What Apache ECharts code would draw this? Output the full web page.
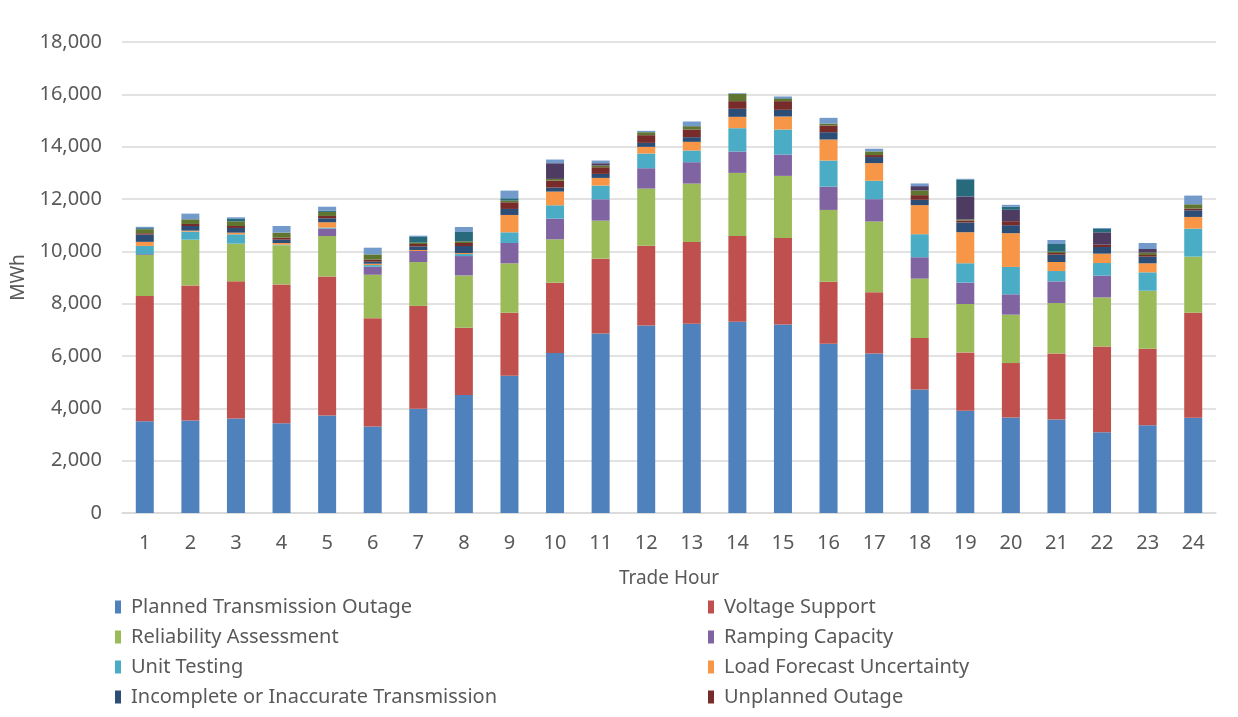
<!DOCTYPE html>
<html>
<head>
<meta charset="utf-8">
<script src="https://cdn.jsdelivr.net/npm/echarts@6/dist/echarts.min.js"></script>
<style>html,body{margin:0;padding:0;background:#fff;}#c{width:1238px;height:717px;}</style>
</head>
<body>
<div id="c"></div>
<script>
const hours = ['1','2','3','4','5','6','7','8','9','10','11','12','13','14','15','16','17','18','19','20','21','22','23','24'];
const yTicks = [0,2000,4000,6000,8000,10000,12000,14000,16000,18000];

const plannedTransmissionOutage = [3508,3533,3610,3431,3729,3307,3984,4508,5242,6110,6862,7168,7232,7309,7207,6467,6099,4721,3905,3649,3571,3087,3355,3636];
const voltageSupport = [4783,5166,5242,5306,5312,4138,3933,2567,2411,2691,2857,3049,3125,3278,3303,2372,2335,1965,2233,2080,2526,3278,2920,4017];
const reliabilityAssessment = [1569,1747,1441,1493,1546,1660,1673,2004,1888,1658,1454,2181,2232,2410,2373,2743,2705,2272,1850,1850,1926,1875,2220,2143];
const rampingCapacity = [30,0,0,0,280,306,422,741,778,791,817,778,817,817,816,892,855,816,816,779,829,829,0,0];
const unitTesting = [318,306,357,25,40,64,0,77,408,510,523,561,446,892,956,995,702,881,740,1046,395,484,702,1071];
const loadForecastUncertainty = [154,39,64,64,203,51,38,38,663,523,293,255,332,434,498,804,676,1110,1187,1289,345,358,344,447];
const incompleteTransmission = [280,178,179,127,153,77,140,268,230,153,153,153,178,306,255,280,230,204,370,306,280,255,255,255];
const unplannedOutage = [51,77,76,77,89,77,90,115,255,268,255,294,293,294,332,256,77,179,77,153,64,89,64,64];
const other1 = [153,178,179,191,154,204,51,64,63,64,64,114,128,280,89,76,140,178,38,0,51,0,89,166];
const other2 = [0,0,0,0,0,0,0,0,0,599,89,0,0,0,0,0,0,166,880,434,0,472,140,0];
const other3 = [40,0,89,0,50,0,217,358,90,0,0,0,0,0,25,0,0,0,651,115,294,128,0,0];
const other4 = [51,217,64,255,150,255,51,191,293,141,102,51,179,26,64,217,102,102,25,76,153,38,230,331];

const seriesDefs = [
  ['Planned Transmission Outage', plannedTransmissionOutage, '#4F81BD'],
  ['Voltage Support', voltageSupport, '#C0504D'],
  ['Reliability Assessment', reliabilityAssessment, '#9BBB59'],
  ['Ramping Capacity', rampingCapacity, '#8064A2'],
  ['Unit Testing', unitTesting, '#4BACC6'],
  ['Load Forecast Uncertainty', loadForecastUncertainty, '#F79646'],
  ['Incomplete or Inaccurate Transmission', incompleteTransmission, '#2C4D75'],
  ['Unplanned Outage', unplannedOutage, '#772C2A'],
  ['Other 1', other1, '#5F7530'],
  ['Other 2', other2, '#4D3B62'],
  ['Other 3', other3, '#276A7C'],
  ['Other 4', other4, '#729ACA']
];

const FONT = 'Noto Sans';
const TXT = '#595959';

const chart = echarts.init(document.getElementById('c'), null, {renderer: 'canvas'});
const legendCommon = {
  type: 'plain',
  orient: 'vertical',
  top: 592,
  height: 300,
  itemWidth: 6,
  itemHeight: 13,
  itemGap: 10,
  icon: 'rect',
  textStyle: {fontFamily: FONT, fontSize: 20, lineHeight: 13, color: TXT, padding: [0,0,0,5]}
};
chart.setOption({
  animation: false,
  backgroundColor: '#ffffff',
  grid: {left: 122, right: 22, top: 42, bottom: 204, containLabel: false},
  legend: [
    Object.assign({left: 110, data: ['Planned Transmission Outage','Reliability Assessment','Unit Testing','Incomplete or Inaccurate Transmission']}, legendCommon),
    Object.assign({left: 703, data: ['Voltage Support','Ramping Capacity','Load Forecast Uncertainty','Unplanned Outage']}, legendCommon)
  ],
  xAxis: {
    type: 'category',
    data: hours,
    name: 'Trade Hour',
    nameLocation: 'middle',
    nameGap: 56,
    nameTextStyle: {fontFamily: FONT, fontSize: 19, color: TXT},
    axisLine: {show: true, lineStyle: {color: '#D9D9D9', width: 1.5}},
    axisTick: {show: false},
    axisLabel: {fontFamily: FONT, fontSize: 20, color: TXT, margin: 20}
  },
  yAxis: {
    type: 'value',
    min: 0, max: 18000, interval: 2000,
    name: 'MWh',
    nameLocation: 'middle',
    nameGap: 77,
    nameRotate: 90,
    nameTextStyle: {fontFamily: FONT, fontSize: 19, color: TXT},
    axisLine: {show: false},
    axisTick: {show: false},
    splitLine: {lineStyle: {color: '#D9D9D9', width: 1.5}},
    axisLabel: {
      fontFamily: FONT, fontSize: 20, color: TXT, margin: 20,
      formatter: v => yTicks.includes(v) ? v.toLocaleString('en-US') : ''
    }
  },
  series: seriesDefs.map(([name, data, color]) => ({
    name, type: 'bar', stack: 'total', data,
    barWidth: 18,
    itemStyle: {color},
    emphasis: {disabled: true}
  }))
});
</script>
</body>
</html>
